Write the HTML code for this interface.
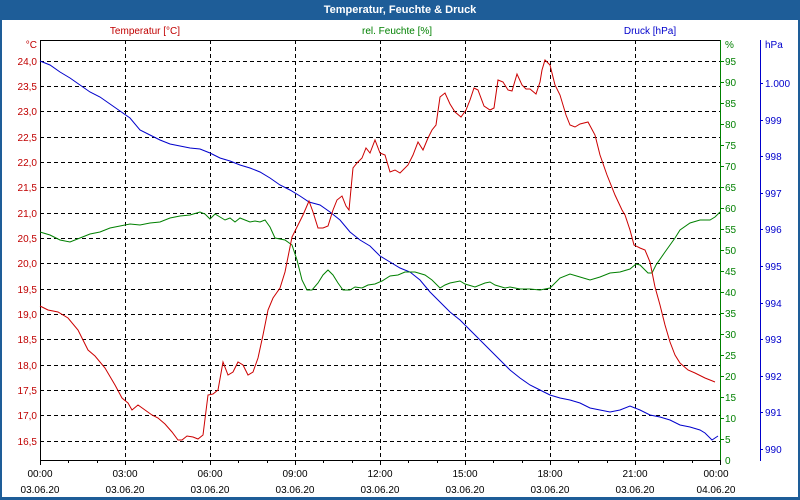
<!DOCTYPE html>
<html><head><meta charset="utf-8"><style>
html,body{margin:0;padding:0;background:#fff}
svg{display:block;font-family:"Liberation Sans",Tahoma,sans-serif}
</style></head><body>
<svg width="800" height="500" viewBox="0 0 800 500" xmlns="http://www.w3.org/2000/svg">
<rect x="0" y="0" width="800" height="500" fill="#1e5d98"/>
<rect x="2" y="20" width="796" height="477" fill="#fff"/>
<text x="400" y="13" fill="#fff" font-size="11" font-weight="bold" text-anchor="middle">Temperatur, Feuchte &amp; Druck</text>
<text x="145" y="34" fill="#c00000" font-size="10" text-anchor="middle">Temperatur [°C]</text>
<text x="397" y="34" fill="#008000" font-size="10" text-anchor="middle">rel. Feuchte [%]</text>
<text x="650" y="34" fill="#0000cc" font-size="10" text-anchor="middle">Druck [hPa]</text>
<g stroke="#000" stroke-width="1" stroke-dasharray="4,3" shape-rendering="crispEdges">
<line x1="40" y1="61.5" x2="720" y2="61.5"/><line x1="40" y1="86.5" x2="720" y2="86.5"/><line x1="40" y1="111.5" x2="720" y2="111.5"/><line x1="40" y1="137.5" x2="720" y2="137.5"/><line x1="40" y1="162.5" x2="720" y2="162.5"/><line x1="40" y1="187.5" x2="720" y2="187.5"/><line x1="40" y1="213.5" x2="720" y2="213.5"/><line x1="40" y1="238.5" x2="720" y2="238.5"/><line x1="40" y1="263.5" x2="720" y2="263.5"/><line x1="40" y1="289.5" x2="720" y2="289.5"/><line x1="40" y1="314.5" x2="720" y2="314.5"/><line x1="40" y1="339.5" x2="720" y2="339.5"/><line x1="40" y1="365.5" x2="720" y2="365.5"/><line x1="40" y1="390.5" x2="720" y2="390.5"/><line x1="40" y1="415.5" x2="720" y2="415.5"/><line x1="40" y1="441.5" x2="720" y2="441.5"/>
<line x1="125.5" y1="40" x2="125.5" y2="460"/><line x1="210.5" y1="40" x2="210.5" y2="460"/><line x1="295.5" y1="40" x2="295.5" y2="460"/><line x1="380.5" y1="40" x2="380.5" y2="460"/><line x1="465.5" y1="40" x2="465.5" y2="460"/><line x1="550.5" y1="40" x2="550.5" y2="460"/><line x1="635.5" y1="40" x2="635.5" y2="460"/>
</g>
<g shape-rendering="crispEdges">
<line x1="40" y1="40.5" x2="720" y2="40.5" stroke="#000"/>
<line x1="40.5" y1="40" x2="40.5" y2="461" stroke="#000"/>
<line x1="40" y1="460.5" x2="720" y2="460.5" stroke="#000"/>
<line x1="720.5" y1="40" x2="720.5" y2="461" stroke="#008000"/>
<line x1="760.5" y1="40" x2="760.5" y2="461" stroke="#0000cc"/>
<g stroke="#000">
<line x1="40.5" y1="460" x2="40.5" y2="465"/><line x1="68.5" y1="460" x2="68.5" y2="463"/><line x1="97.5" y1="460" x2="97.5" y2="463"/><line x1="125.5" y1="460" x2="125.5" y2="465"/><line x1="153.5" y1="460" x2="153.5" y2="463"/><line x1="182.5" y1="460" x2="182.5" y2="463"/><line x1="210.5" y1="460" x2="210.5" y2="465"/><line x1="238.5" y1="460" x2="238.5" y2="463"/><line x1="267.5" y1="460" x2="267.5" y2="463"/><line x1="295.5" y1="460" x2="295.5" y2="465"/><line x1="323.5" y1="460" x2="323.5" y2="463"/><line x1="352.5" y1="460" x2="352.5" y2="463"/><line x1="380.5" y1="460" x2="380.5" y2="465"/><line x1="408.5" y1="460" x2="408.5" y2="463"/><line x1="437.5" y1="460" x2="437.5" y2="463"/><line x1="465.5" y1="460" x2="465.5" y2="465"/><line x1="493.5" y1="460" x2="493.5" y2="463"/><line x1="522.5" y1="460" x2="522.5" y2="463"/><line x1="550.5" y1="460" x2="550.5" y2="465"/><line x1="578.5" y1="460" x2="578.5" y2="463"/><line x1="607.5" y1="460" x2="607.5" y2="463"/><line x1="635.5" y1="460" x2="635.5" y2="465"/><line x1="663.5" y1="460" x2="663.5" y2="463"/><line x1="692.5" y1="460" x2="692.5" y2="463"/><line x1="720.5" y1="460" x2="720.5" y2="465"/>
</g>
<g stroke="#008000">
<line x1="720" y1="61.5" x2="724" y2="61.5"/><line x1="720" y1="82.5" x2="724" y2="82.5"/><line x1="720" y1="103.5" x2="724" y2="103.5"/><line x1="720" y1="124.5" x2="724" y2="124.5"/><line x1="720" y1="145.5" x2="724" y2="145.5"/><line x1="720" y1="166.5" x2="724" y2="166.5"/><line x1="720" y1="187.5" x2="724" y2="187.5"/><line x1="720" y1="208.5" x2="724" y2="208.5"/><line x1="720" y1="229.5" x2="724" y2="229.5"/><line x1="720" y1="250.5" x2="724" y2="250.5"/><line x1="720" y1="271.5" x2="724" y2="271.5"/><line x1="720" y1="292.5" x2="724" y2="292.5"/><line x1="720" y1="313.5" x2="724" y2="313.5"/><line x1="720" y1="334.5" x2="724" y2="334.5"/><line x1="720" y1="355.5" x2="724" y2="355.5"/><line x1="720" y1="376.5" x2="724" y2="376.5"/><line x1="720" y1="397.5" x2="724" y2="397.5"/><line x1="720" y1="418.5" x2="724" y2="418.5"/><line x1="720" y1="439.5" x2="724" y2="439.5"/>
</g>
<g stroke="#0000cc">
<line x1="760" y1="83.5" x2="763" y2="83.5"/><line x1="760" y1="120.5" x2="763" y2="120.5"/><line x1="760" y1="156.5" x2="763" y2="156.5"/><line x1="760" y1="193.5" x2="763" y2="193.5"/><line x1="760" y1="229.5" x2="763" y2="229.5"/><line x1="760" y1="266.5" x2="763" y2="266.5"/><line x1="760" y1="303.5" x2="763" y2="303.5"/><line x1="760" y1="339.5" x2="763" y2="339.5"/><line x1="760" y1="376.5" x2="763" y2="376.5"/><line x1="760" y1="412.5" x2="763" y2="412.5"/><line x1="760" y1="449.5" x2="763" y2="449.5"/>
</g>
</g>
<g fill="#c00000" font-size="10" text-anchor="end">
<text x="37" y="48">°C</text>
<text x="37" y="65">24,0</text><text x="37" y="90">23,5</text><text x="37" y="115">23,0</text><text x="37" y="141">22,5</text><text x="37" y="166">22,0</text><text x="37" y="191">21,5</text><text x="37" y="217">21,0</text><text x="37" y="242">20,5</text><text x="37" y="267">20,0</text><text x="37" y="293">19,5</text><text x="37" y="318">19,0</text><text x="37" y="343">18,5</text><text x="37" y="369">18,0</text><text x="37" y="394">17,5</text><text x="37" y="419">17,0</text><text x="37" y="445">16,5</text>
</g>
<g fill="#008000" font-size="10">
<text x="725" y="48">%</text>
<text x="725" y="65">95</text><text x="725" y="86">90</text><text x="725" y="107">85</text><text x="725" y="128">80</text><text x="725" y="149">75</text><text x="725" y="170">70</text><text x="725" y="191">65</text><text x="725" y="212">60</text><text x="725" y="233">55</text><text x="725" y="254">50</text><text x="725" y="275">45</text><text x="725" y="296">40</text><text x="725" y="317">35</text><text x="725" y="338">30</text><text x="725" y="359">25</text><text x="725" y="380">20</text><text x="725" y="401">15</text><text x="725" y="422">10</text><text x="725" y="443">5</text><text x="725" y="464">0</text>
</g>
<g fill="#0000cc" font-size="10">
<text x="765" y="48">hPa</text>
<text x="765" y="87">1.000</text><text x="765" y="124">999</text><text x="765" y="160">998</text><text x="765" y="197">997</text><text x="765" y="233">996</text><text x="765" y="270">995</text><text x="765" y="307">994</text><text x="765" y="343">993</text><text x="765" y="380">992</text><text x="765" y="416">991</text><text x="765" y="453">990</text>
</g>
<g fill="#000" font-size="10" text-anchor="middle">
<text x="40" y="477">00:00</text><text x="40" y="493">03.06.20</text>
<text x="125" y="477">03:00</text><text x="125" y="493">03.06.20</text>
<text x="210" y="477">06:00</text><text x="210" y="493">03.06.20</text>
<text x="295" y="477">09:00</text><text x="295" y="493">03.06.20</text>
<text x="380" y="477">12:00</text><text x="380" y="493">03.06.20</text>
<text x="465" y="477">15:00</text><text x="465" y="493">03.06.20</text>
<text x="550" y="477">18:00</text><text x="550" y="493">03.06.20</text>
<text x="635" y="477">21:00</text><text x="635" y="493">03.06.20</text>
<text x="716" y="477">00:00</text><text x="716" y="493">04.06.20</text>
</g>
<polyline fill="none" stroke="#0000cc" stroke-width="1" points="40,61 50,65 60,72 70,78 80,85 90,92 100,97 110,104 120,111 130,118 140,130 150,135 160,140 170,144 180,146 190,148 200,149 210,153 220,158 230,161 240,165 250,168 260,172 270,178 280,185 290,190 300,196 309,202 320,205 330,212 340,220 350,232 360,240 370,246 380,256 390,262 400,268 410,272 420,280 430,292 440,302 450,312 460,320 470,330 480,340 490,350 500,360 510,370 520,378 530,385 540,390 550,395 560,398 570,400 580,403 590,408 600,410 610,412 620,410 630,406 640,410 650,415 660,417 670,420 680,425 690,427 700,430 705,433 712,440 718,436"/>
<polyline fill="none" stroke="#008000" stroke-width="1" points="40,232 50,235 60,240 70,242 80,238 90,234 100,232 110,228 120,226 130,224 140,225 150,223 160,222 170,218 180,216 190,215 200,212 205,214 210,219 215,214 220,217 225,220 230,218 235,222 240,218 245,220 250,222 255,221 260,222 265,220 270,227 275,238 285,240 292,245 297,260 302,280 307,290 312,290 318,283 323,275 328,270 333,275 338,283 343,290 350,290 355,287 362,288 368,285 375,284 382,281 390,276 398,275 405,272 415,272 425,275 432,280 440,288 445,285 450,283 460,281 465,284 475,287 485,283 490,282 495,285 505,288 510,287 520,289 530,289 540,290 550,288 560,278 570,274 580,277 590,280 600,277 610,273 620,272 630,269 636,264 640,265 645,270 648,273 652,273 656,265 665,252 675,238 680,230 690,223 700,220 710,220 715,217 720,212"/>
<polyline fill="none" stroke="#cc0000" stroke-width="1" points="40,306 48,310 58,312 68,318 78,330 88,350 95,356 105,368 115,385 122,398 128,403 132,410 138,405 145,410 152,415 158,418 165,424 172,432 178,440 182,440 187,436 193,437 198,439 203,435 208,395 213,394 218,390 223,362 228,375 233,372 238,362 243,365 248,375 253,372 258,358 263,335 268,310 273,298 280,288 285,272 292,237 298,225 303,215 309,201 313,212 318,228 323,228 328,226 333,210 337,200 342,196 346,206 349,210 353,168 357,163 362,158 366,148 370,153 375,140 380,153 385,155 390,172 395,170 400,173 408,165 413,155 418,142 423,150 428,138 432,130 436,125 440,97 445,93 450,104 455,112 461,117 466,110 470,100 474,88 478,90 484,106 490,110 494,108 498,80 503,82 508,90 512,91 517,74 522,85 526,89 530,89 536,94 540,82 542,70 545,60 550,65 555,85 560,95 566,115 570,125 575,127 580,124 588,122 595,135 600,155 607,175 615,195 622,210 625,215 630,230 634,245 640,248 645,250 650,262 655,287 660,305 665,325 670,342 675,355 680,363 688,370 695,373 705,378 715,382"/>
</svg>
</body></html>
